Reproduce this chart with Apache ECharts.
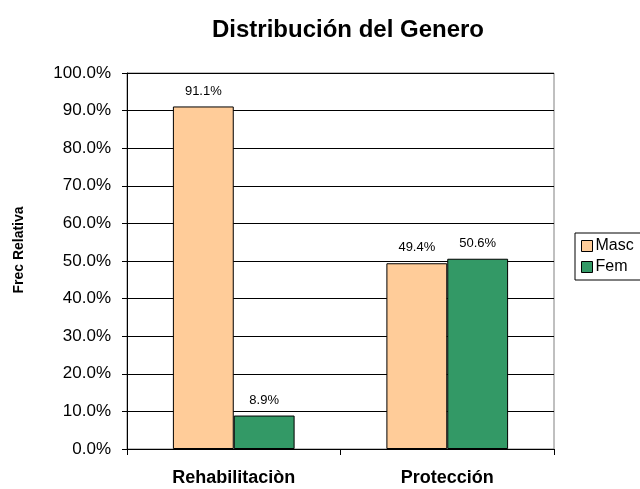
<!DOCTYPE html>
<html><head><meta charset="utf-8">
<script src="https://cdn.jsdelivr.net/npm/echarts@6/dist/echarts.min.js"></script>
<style>html,body{margin:0;padding:0;background:#fff}#c{width:640px;height:489px}</style>
</head><body><div id="c"></div>
<script>
var categories = ['Rehabilitaciòn', 'Protección'];
var masc = [91.1, 49.4];
var fem = [8.9, 50.6];
var seriesNames = ['Masc', 'Fem'];
var titleText = 'Distribución del Genero';
var yName = 'Frec Relativa';
var chart = echarts.init(document.getElementById('c'));
var FF = 'Liberation Sans, Arial, sans-serif';
var lbl = {show:true, position:'top', distance:9, fontFamily:FF, fontSize:13, color:'#000',
  formatter:function(p){return p.value.toFixed(1)+'%';}};
chart.setOption({
  animation:false,
  title:{text:titleText, left:343, top:13, textAlign:'center',
    textStyle:{fontFamily:FF, fontSize:24, fontWeight:'bold', color:'#000'}},
  graphic:[{type:'text', x:19, y:250, rotation:Math.PI/2,
    style:{text:yName, font:'bold 14px '+FF, fill:'#000', textAlign:'center', textVerticalAlign:'middle'}}],
  legend:{orient:'vertical', left:575, top:233, itemWidth:11, itemHeight:11, itemGap:5,
    padding:[5,8,5,6], borderColor:'#000', borderWidth:1, icon:'rect',
    itemStyle:{borderColor:'#000', borderWidth:1},
    textStyle:{fontFamily:FF, fontSize:16, color:'#000', padding:[0,0,0,-2]},
    data:seriesNames},
  grid:{left:127, right:86, top:73, bottom:40, show:true, borderColor:'#808080', borderWidth:1},
  xAxis:{type:'category', data:categories,
    axisLine:{lineStyle:{color:'#000'}}, axisTick:{show:true, length:6, lineStyle:{color:'#000'}},
    axisLabel:{fontFamily:FF, fontSize:18, fontWeight:'bold', color:'#000', margin:20}},
  yAxis:{type:'value', min:0, max:100, interval:10,
    axisLine:{show:true, lineStyle:{color:'#000'}}, axisTick:{show:true, length:5, lineStyle:{color:'#000'}},
    splitLine:{lineStyle:{color:'#000', width:1}},
    axisLabel:{fontFamily:FF, fontSize:17, color:'#000', margin:16,
      formatter:function(v){return v.toFixed(1)+'%';}}},
  series:[
    {name:seriesNames[0], type:'bar', data:masc, barGap:'0%', barCategoryGap:'43%',
     itemStyle:{color:'#FFCC99', borderColor:'#000', borderWidth:1}, label:lbl},
    {name:seriesNames[1], type:'bar', data:fem,
     itemStyle:{color:'#339966', borderColor:'#000', borderWidth:1}, label:lbl}
  ]
});
</script></body></html>
